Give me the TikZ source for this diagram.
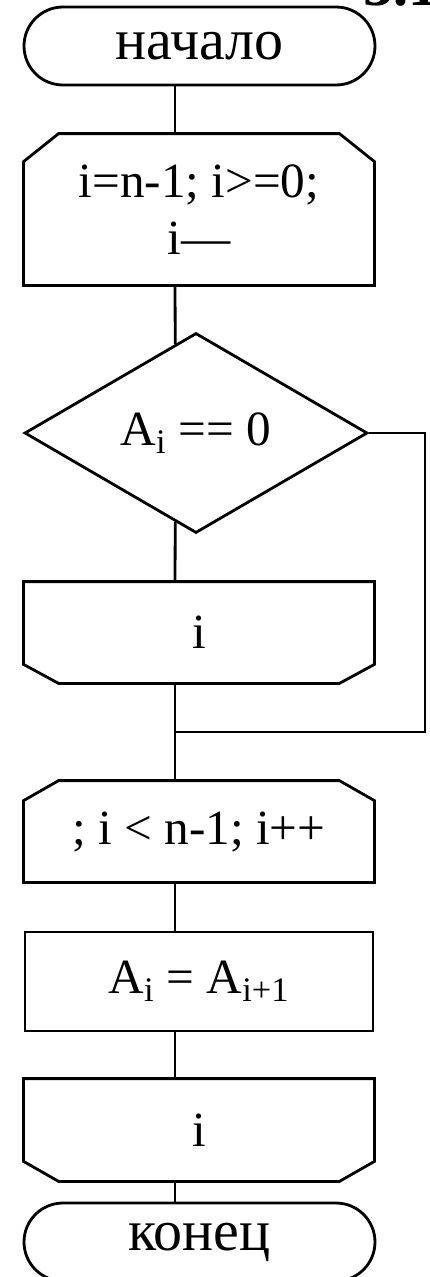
\documentclass[tikz,border=0pt]{standalone}
\usepackage{fontspec}
\setmainfont{Liberation Serif}
\usetikzlibrary{shapes.geometric,shapes.misc,calc}
\tikzset{
  wire/.style={line width=1.6pt},
  block/.style={draw, line width=1.6pt, fill=white, inner sep=0pt,
    minimum width=6.96cm, minimum height=1.98cm,
    font=\fontsize{28}{34}\selectfont},
  terminal/.style={block, rounded rectangle, minimum width=7.02cm,
    minimum height=1.56cm, font=\fontsize{33}{40}\selectfont},
  cutbox/.style={block, draw=none},
  decision/.style={block, diamond, minimum width=6.86cm, minimum height=4cm}
}
% outlines with cut corners on top or bottom
\newcommand{\topcut}[2]{\draw[wire] (#1.south west) -- ([yshift=-#2]#1.north west)
  -- ([xshift=0.7cm]#1.north west) -- ([xshift=-0.7cm]#1.north east)
  -- ([yshift=-#2]#1.north east) -- (#1.south east) -- cycle;}
\newcommand{\bottomcut}[2]{\draw[wire] (#1.north west) -- ([yshift=#2]#1.south west)
  -- ([xshift=0.7cm]#1.south west) -- ([xshift=-0.7cm]#1.south east)
  -- ([yshift=#2]#1.south east) -- (#1.north east) -- cycle;}

\begin{document}
\begin{tikzpicture}
\useasboundingbox (0,0) rectangle (8.6,-25.54);
\coordinate (spine) at (3.5,0);
\node[anchor=base west, inner sep=0pt, font=\bfseries\fontsize{34}{40}\selectfont] (fignum) at (7.26,-0.1) {3.1};
\node[terminal] (start) at (3.99,-0.92) {начало};
\node[cutbox, minimum height=2.98cm, align=center] (loop) at (3.98,-4.19) {i=n-1; i>=0;\\[-0.05cm] i—};
\topcut{loop}{0.56cm}
\node[decision] (cond) at (3.92,-8.66) {A\textsubscript{i} == 0};
\node[cutbox] (out1) at (3.98,-12.65) {i};
\bottomcut{out1}{0.38cm}
\coordinate (join) at (3.5,-14.64);
\node[cutbox] (loopend) at (3.98,-16.63) {; i < n-1; i++};
\topcut{loopend}{0.4cm}
\node[block] (proc) at (3.98,-19.63) {A\textsubscript{i} = A\textsubscript{i+1}};
\node[cutbox, minimum height=2cm] (out2) at (3.98,-22.6) {i};
\bottomcut{out2}{0.4cm}
\node[terminal] (stop) at (3.99,-24.84) {конец};
% connectors
\draw[wire] (start.south -| spine) -- (loop.north -| spine);
\draw[wire] (loop.south -| spine) -- ($(cond.north)!0.12!(cond.west)$);
\draw[wire] ($(cond.south)!0.12!(cond.west)$) -- (out1.north -| spine);
\draw[wire] (out1.south -| spine) -- (loopend.north -| spine);
\draw[wire] (cond.east) -- ++(1.12,0) |- (join);
\draw[wire] (loopend.south -| spine) -- (proc.north -| spine);
\draw[wire] (proc.south -| spine) -- (out2.north -| spine);
\draw[wire] (out2.south -| spine) -- (stop.north -| spine);
\end{tikzpicture}
\end{document}
